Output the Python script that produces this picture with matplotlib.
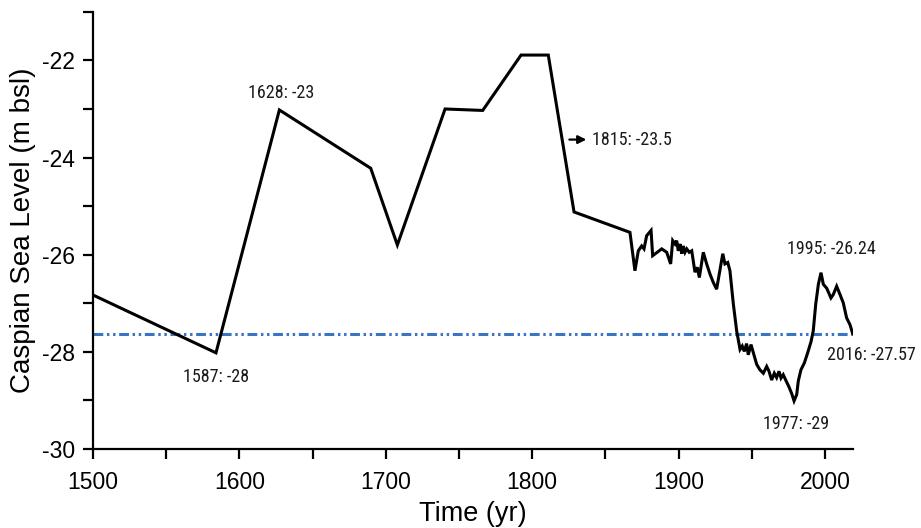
import matplotlib
matplotlib.use("Agg")
import matplotlib.pyplot as plt
from matplotlib.ticker import MultipleLocator
from matplotlib import font_manager

#Caspian sea level record
years = [1500, 1584, 1627.3, 1689.7, 1707.9, 1740.5, 1766.2, 1792.4, 1811, 1828.6,
         1866.8, 1870.2, 1872.5, 1874.8, 1876.4, 1878.2, 1881.2, 1882.3, 1888.5, 1891.9,
         1894.6, 1896, 1897.6, 1898.7, 1899.8, 1901, 1902.2, 1903.2, 1904.4, 1905.6,
         1907.3, 1909, 1911.2, 1912.8, 1914.2, 1916.9, 1919.2, 1921.5, 1923.7, 1926,
         1930.2, 1931.7, 1933.6, 1935.1, 1937.4, 1939.7, 1942, 1943.5, 1944.9, 1946.5,
         1947.6, 1949.5, 1951.1, 1953.4, 1955.6, 1957.9, 1960.2, 1961.8, 1963.6, 1965.4,
         1967, 1968.6, 1970, 1971.5, 1973.2, 1975.4, 1977.3, 1978.9, 1980.7, 1981.8,
         1983.6, 1985.9, 1988.2, 1990.5, 1992, 1993.7, 1995.5, 1997.3, 1998.9, 2001.2,
         2004.1, 2005.7, 2008, 2010.3, 2012.5, 2014.8, 2017.1, 2018.9]
level = [-26.83, -28.02, -23.02, -24.22, -25.8, -23.0, -23.03, -21.89, -21.89, -25.12,
         -25.54, -26.33, -25.92, -25.82, -25.88, -25.61, -25.5, -26.02, -25.88, -25.95,
         -26.19, -25.71, -25.78, -25.71, -25.92, -25.78, -25.98, -25.82, -25.95, -25.88,
         -25.95, -25.92, -26.36, -26.26, -26.47, -25.95, -26.19, -26.4, -26.57, -26.71,
         -25.98, -26.19, -26.16, -26.33, -27.01, -27.57, -27.95, -27.88, -27.99, -27.83,
         -28.06, -27.85, -28.02, -28.26, -28.37, -28.44, -28.3, -28.4, -28.58, -28.44,
         -28.53, -28.4, -28.54, -28.47, -28.58, -28.72, -28.86, -29.01, -28.88, -28.6,
         -28.37, -28.23, -28.02, -27.79, -27.57, -27.02, -26.61, -26.37, -26.61, -26.69,
         -26.89, -26.82, -26.65, -26.82, -26.99, -27.3, -27.44, -27.62]

#present day level (dash-dot-dot reference line)
current_level = -27.64

#annotations: text, x, y
labels = ["1587: -28", "1628: -23", "1815: -23.5", "1977: -29", "1995: -26.24", "2016: -27.57"]
label_x = [1584.2, 1628.3, 1840.7, 1980.1, 2004.1, 2031.5]
label_y = [-28.51, -22.68, -23.63, -29.49, -25.88, -28.06]


def pick_font(names, fallback="DejaVu Sans"):
    have = set(f.name for f in font_manager.fontManager.ttflist)
    for n in names:
        if n in have:
            return n
    return fallback


def main():
    plt.rcParams['axes.unicode_minus'] = False
    main_font = pick_font(["Liberation Sans", "Arimo"])
    narrow_font = pick_font(["Liberation Sans Narrow", "Roboto Condensed", "Liberation Sans"])
    plt.rcParams['font.family'] = [main_font, 'DejaVu Sans']

    fig = plt.figure(figsize=(9.21, 5.28), dpi=100)
    ax = fig.add_axes([0.101, 0.1496, 0.8257, 0.828])

    #blue dash-dot-dot line for the current level
    ax.plot([years[0], years[-1]], [current_level, current_level], color='#3a74c4', lw=2.2,
            linestyle=(0, (3.2, 1.2, 0.8, 1.2, 0.8, 1.2)), solid_capstyle='butt', zorder=2)

    #sea level curve
    ax.plot(years, level, color='black', lw=2.2, solid_joinstyle='miter', zorder=3)

    ax.set_xlim(1500, 2019.5)
    ax.set_ylim(-30, -21)

    #axes style
    for s in ['top', 'right']:
        ax.spines[s].set_visible(False)
    for s in ['left', 'bottom']:
        ax.spines[s].set_linewidth(1.6)

    ax.xaxis.set_major_locator(MultipleLocator(100))
    ax.xaxis.set_minor_locator(MultipleLocator(50))
    ax.yaxis.set_major_locator(MultipleLocator(2))
    ax.yaxis.set_minor_locator(MultipleLocator(1))
    ax.tick_params(which='both', direction='out', length=7, width=1.6, color='black')
    ax.tick_params(axis='x', which='major', labelsize=16.5, pad=9)
    ax.tick_params(axis='y', which='major', labelsize=16.5, pad=6)

    ax.set_xlabel('Time (yr)', fontsize=19.5, labelpad=5)
    ax.set_ylabel('Caspian Sea Level (m bsl)', fontsize=20, labelpad=4.5)

    #point labels
    for i in range(len(labels)):
        ha = 'left' if labels[i].startswith('1815') else 'center'
        ax.text(label_x[i], label_y[i], labels[i], fontsize=13, family=[narrow_font, 'DejaVu Sans'],
                ha=ha, va='center', color='#1a1a1a', clip_on=False)

    #small arrow in front of the 1815 label
    ax.annotate('', xy=(1837.0, -23.63), xytext=(1825.4, -23.63),
                arrowprops=dict(arrowstyle='-|>', lw=1.6, color='black', mutation_scale=12,
                                shrinkA=0, shrinkB=0))

    fig.savefig('out.png', dpi=100)


if __name__ == '__main__':
    main()
